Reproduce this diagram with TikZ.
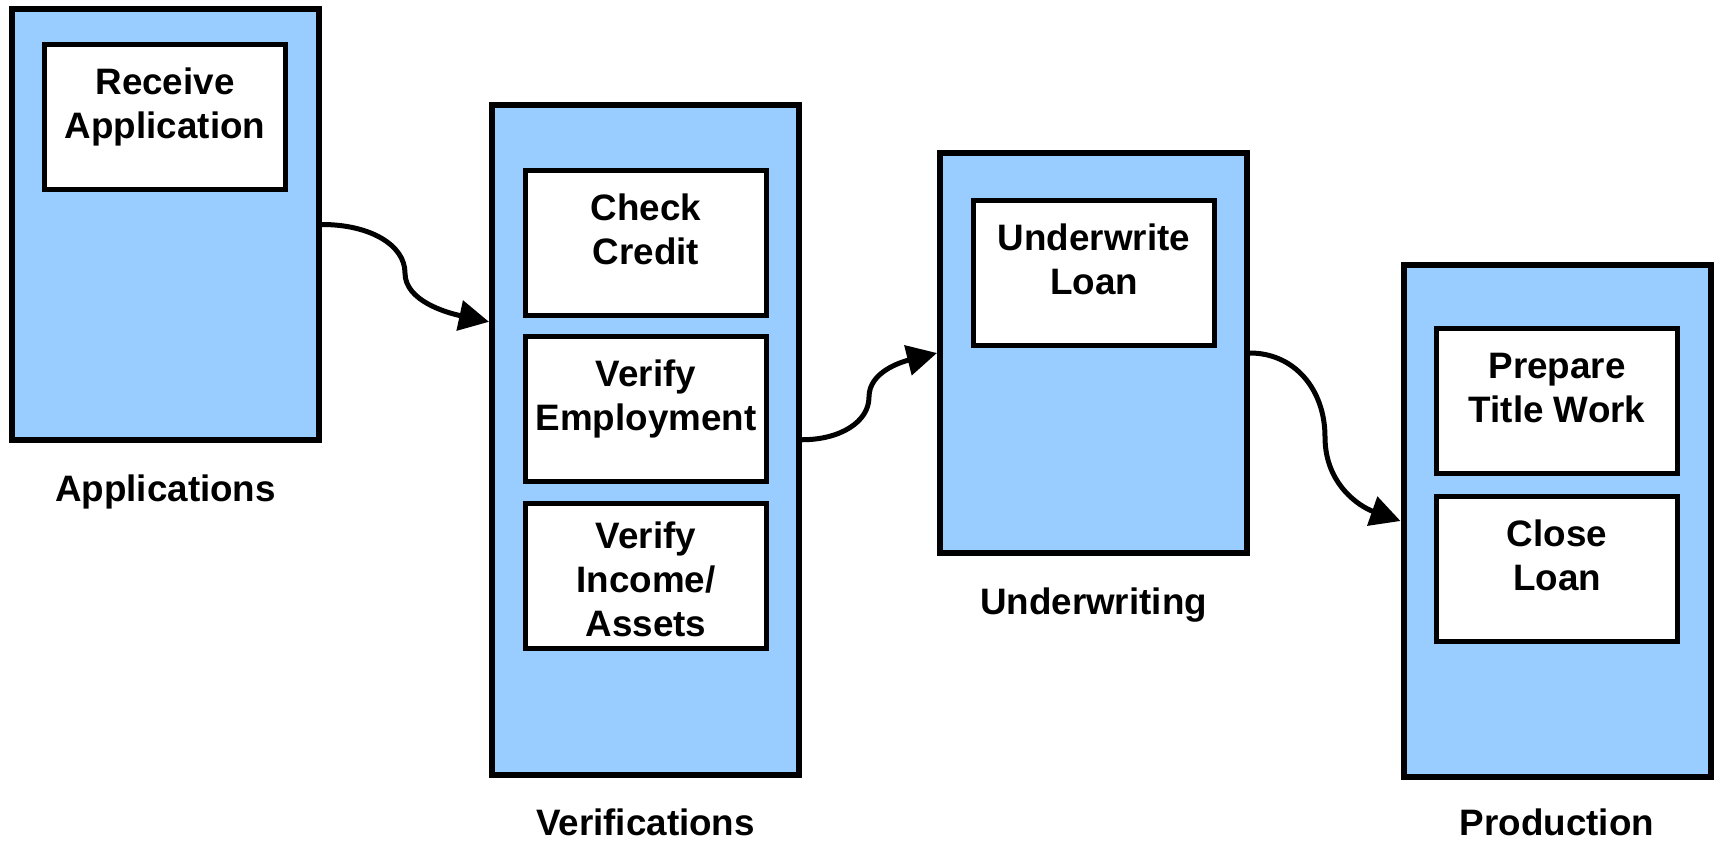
\documentclass[tikz,border=0pt]{standalone}
\usepackage{fontspec}
\setmainfont{Liberation Sans}
\usetikzlibrary{arrows.meta,calc}
\definecolor{laneblue}{RGB}{153,204,255}
\tikzset{
  lane/.style={draw=black, line width=6pt, fill=laneblue, rectangle,
    minimum width=307pt, inner sep=0pt},
  taskbox/.style={draw=black, line width=5pt, fill=white, rectangle,
    minimum width=241pt, minimum height=145pt, inner sep=0pt},
  tasktext/.style={anchor=north, align=center, inner sep=0pt, outer sep=0pt,
    font=\bfseries\fontsize{36.8}{44}\selectfont},
  lanetitle/.style={anchor=base, inner sep=0pt,
    font=\bfseries\fontsize{36.8}{44}\selectfont},
  flow/.style={line width=5pt, -{Triangle[length=30pt,width=30pt]}}
}
\newcommand{\topstrut}{\rule{0pt}{30pt}}
\begin{document}
\begin{tikzpicture}[x=1pt, y=-1pt]
  \useasboundingbox (0,0) rectangle (1716,841);

  % swim lanes
  \node[lane, minimum height=431pt]   (apps) at (165.5,224.5) {};
  \node[lane, minimum height=670.5pt] (ver)  at (645.5,439.75) {};
  \node[lane, minimum height=400pt]   (uw)   at (1093.5,353) {};
  \node[lane, minimum height=512pt]   (prod) at (1557,521) {};

  % lane titles
  \node[lanetitle] (appsT) at ($(apps.south)+(0,58)$) {Applications};
  \node[lanetitle] (verT)  at ($(ver.south)+(0,57)$)  {Verifications};
  \node[lanetitle] (uwT)   at ($(uw.south)+(0,58)$)   {Underwriting};
  \node[lanetitle] (prodT) at ($(prod.south)+(0,55)$) {Production};

  % tasks
  \node[taskbox] (rcv)  at (165,117) {};
  \node[taskbox] (chk)  at (646,242.5) {};
  \node[taskbox] (emp)  at (646,409) {};
  \node[taskbox] (inc)  at (646,576) {};
  \node[taskbox] (uwl)  at (1094,273) {};
  \node[taskbox] (ttl)  at (1557,401) {};
  \node[taskbox] (cls)  at (1557,568.5) {};

  \node[tasktext] (rcvT) at ($(rcv.center)+(0,-52.5)$) {\topstrut Receive\\Application};
  \node[tasktext] (chkT) at ($(chk.center)+(0,-52.5)$) {\topstrut Check\\Credit};
  \node[tasktext] (empT) at ($(emp.center)+(0,-52.5)$) {\topstrut Verify\\Employment};
  \node[tasktext] (incT) at ($(inc.center)+(0,-57.5)$) {\topstrut Verify\\Income/\\Assets};
  \node[tasktext] (uwlT) at ($(uwl.center)+(0,-52.5)$) {\topstrut Underwrite\\Loan};
  \node[tasktext] (ttlT) at ($(ttl.center)+(0,-52.5)$) {\topstrut Prepare\\Title Work};
  \node[tasktext] (clsT) at ($(cls.center)+(0,-52.5)$) {\topstrut Close\\Loan};

  % bend points of the hand-offs
  \coordinate (b1) at (405,273);
  \coordinate (b2) at (869,397);
  \coordinate (b3) at (1325,437);

  % hand-offs between lanes
  \draw[flow] (apps.east) .. controls +(48,0) and +(0,-28) .. (b1)
                          .. controls +(0,28) and +(-42,-9) .. (ver.143);
  \draw[flow] (ver.east)  .. controls +(38,0) and +(0,25) .. (b2)
                          .. controls +(0,-25) and +(-36,9) .. (uw.west);
  \draw[flow] (uw.east)   .. controls +(44,0) and +(0,-48) .. (b3)
                          .. controls +(0,48) and +(-40,-14) .. (prod.west);
\end{tikzpicture}
\end{document}
